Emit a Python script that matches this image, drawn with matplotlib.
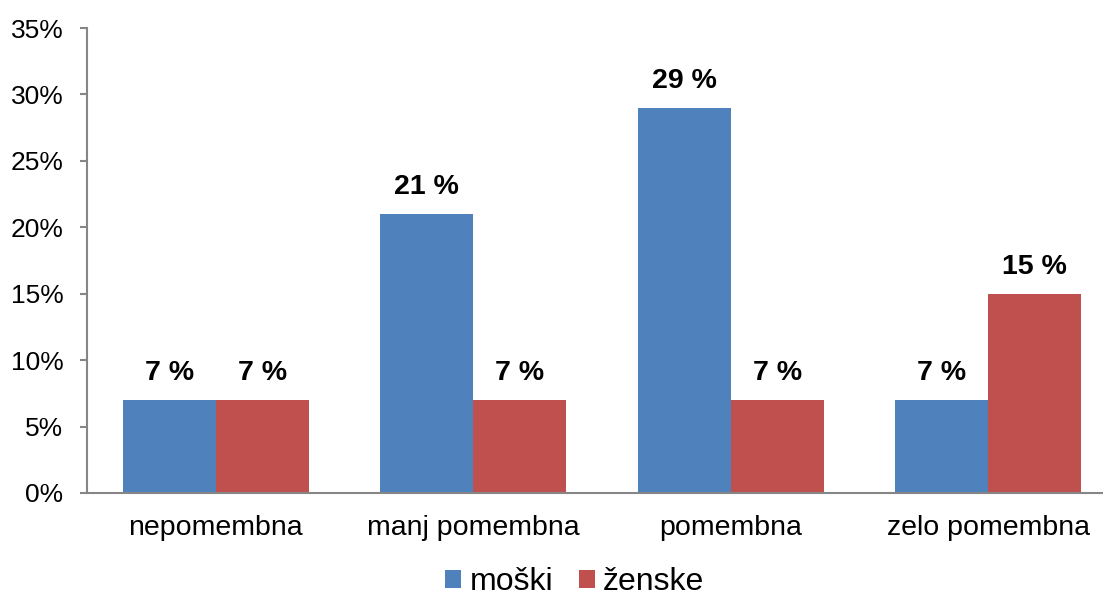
import numpy as np
import matplotlib.pyplot as plt
from matplotlib.ticker import FuncFormatter

plt.rcParams['font.family'] = ['Liberation Sans', 'DejaVu Sans']

categories = ["nepomembna", "manj pomembna", "pomembna", "zelo pomembna"]
moski = [7, 21, 29, 7]
zenske = [7, 7, 7, 15]
series_names = ["moški", "ženske"]

blue = "#4F81BD"
red = "#C0504D"
axis_grey = "#868686"

fig = plt.figure(figsize=(11.03, 5.98), dpi=100)
ax = fig.add_axes([87 / 1103, 105 / 598, 1030 / 1103, 465 / 598])

x = np.arange(len(categories))
w = 0.3612
b1 = ax.bar(x - w / 2, moski, w, color=blue, label=series_names[0])
b2 = ax.bar(x + w / 2, zenske, w, color=red, label=series_names[1])

for bars in (b1, b2):
    for rect in bars:
        h = rect.get_height()
        ax.annotate(f"{h:.0f} %", (rect.get_x() + rect.get_width() / 2, h),
                    xytext=(0, 10), textcoords="offset points",
                    ha="center", va="bottom", fontsize=20.5, fontweight="bold")

ax.set_xlim(-0.5, len(categories) - 0.5)
ax.set_ylim(0, 35)
ax.set_yticks(np.arange(0, 36, 5))
ax.yaxis.set_major_formatter(FuncFormatter(lambda v, p: f"{v:.0f}%"))
ax.set_xticks(x)
ax.set_xticklabels(categories)

for s in ("top", "right"):
    ax.spines[s].set_visible(False)
for s in ("left", "bottom"):
    ax.spines[s].set_color(axis_grey)
    ax.spines[s].set_linewidth(1.5)

ax.tick_params(axis="y", length=5, width=1.5, color=axis_grey, labelsize=19, pad=12)
ax.tick_params(axis="x", length=0, labelsize=20.5, pad=16)

fig.legend(loc="center", bbox_to_anchor=(0.521, 1 - 582 / 598), ncol=2,
           frameon=False, fontsize=23, handlelength=0.5, handleheight=0.5,
           handletextpad=0.25, columnspacing=0.8)

fig.savefig("out.png", dpi=100)
